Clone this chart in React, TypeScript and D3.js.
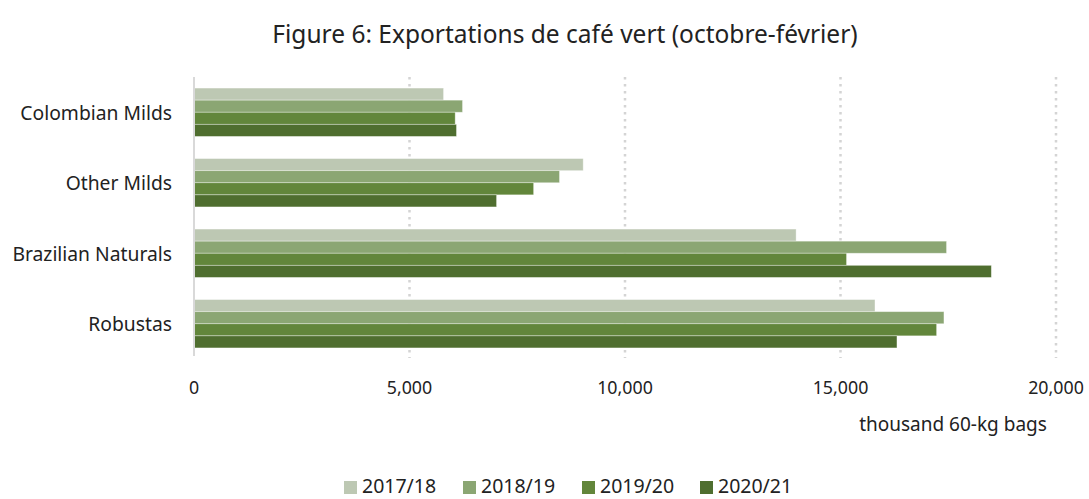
import React from "react";
import * as d3 from "d3";

const categories = ["Colombian Milds", "Other Milds", "Brazilian Naturals", "Robustas"];
const seasons = ["2017/18", "2018/19", "2019/20", "2020/21"];
const s2017_18 = [5790, 9030, 13970, 15800];
const s2018_19 = [6230, 8480, 17460, 17400];
const s2019_20 = [6060, 7880, 15140, 17230];
const s2020_21 = [6090, 7020, 18500, 16310];
const seriesValues = [s2017_18, s2018_19, s2019_20, s2020_21];
const xTicks = [0, 5000, 10000, 15000, 20000];
const colors = ["#bdc8b3", "#8ba673", "#62863b", "#4f6e2f"];

const W = 1089;
const H = 499;
const font = "'Noto Sans', 'Open Sans', sans-serif";

export default function App() {
  const x = d3.scaleLinear().domain([0, 20000]).range([194, 1056]);
  const y = d3.scaleBand().domain(categories).range([77, 359]).paddingInner(0.314).paddingOuter(0.157);
  const inner = d3.scaleBand().domain(seasons).range([0, y.bandwidth()]);
  const fmt = d3.format(",");
  const legendX = [344, 463, 582, 700];

  return (
    <svg width={W} height={H} style={{ position: "absolute", left: 0, top: 0, background: "#fff" }}>
      <text x={565} y={33} textAnchor="middle" dominantBaseline="central" fontFamily={font} fontSize={24.5} fill="#222">
        Figure 6: Exportations de café vert (octobre-février)
      </text>
      {xTicks.slice(1).map((t) => (
        <line key={t} x1={x(t)} x2={x(t)} y1={77} y2={358} stroke="#d4d4d4" strokeWidth={2.5} strokeDasharray="2.5,4.5" />
      ))}
      {seriesValues.map((vals, si) =>
        categories.map((c, ci) => (
          <rect
            key={`${si}-${ci}`}
            x={x(0)}
            y={(y(c) as number) + (inner(seasons[si]) as number)}
            width={x(vals[ci]) - x(0)}
            height={inner.bandwidth()}
            fill={colors[si]}
            stroke="#ffffff"
            strokeOpacity={0.45}
            strokeWidth={0.8}
          />
        ))
      )}
      <line x1={x(0)} x2={x(0)} y1={77} y2={356} stroke="#d9d9d9" strokeWidth={2} />
      {categories.map((c) => (
        <text key={c} x={172} y={(y(c) as number) + y.bandwidth() / 2} textAnchor="end" dominantBaseline="central" fontFamily={font} fontSize={19.3} fill="#222">
          {c}
        </text>
      ))}
      {xTicks.map((t) => (
        <text key={t} x={x(t)} y={387} textAnchor="middle" dominantBaseline="central" fontFamily={font} fontSize={17.8} fill="#222">
          {fmt(t)}
        </text>
      ))}
      <text x={953} y={424} textAnchor="middle" dominantBaseline="central" fontFamily={font} fontSize={19} fill="#222">
        thousand 60-kg bags
      </text>
      {seasons.map((s, i) => (
        <g key={s}>
          <rect x={legendX[i]} y={481} width={13} height={13} fill={colors[i]} />
          <text x={legendX[i] + 18} y={493} fontFamily={font} fontSize={19.5} fill="#222">
            {s}
          </text>
        </g>
      ))}
    </svg>
  );
}
